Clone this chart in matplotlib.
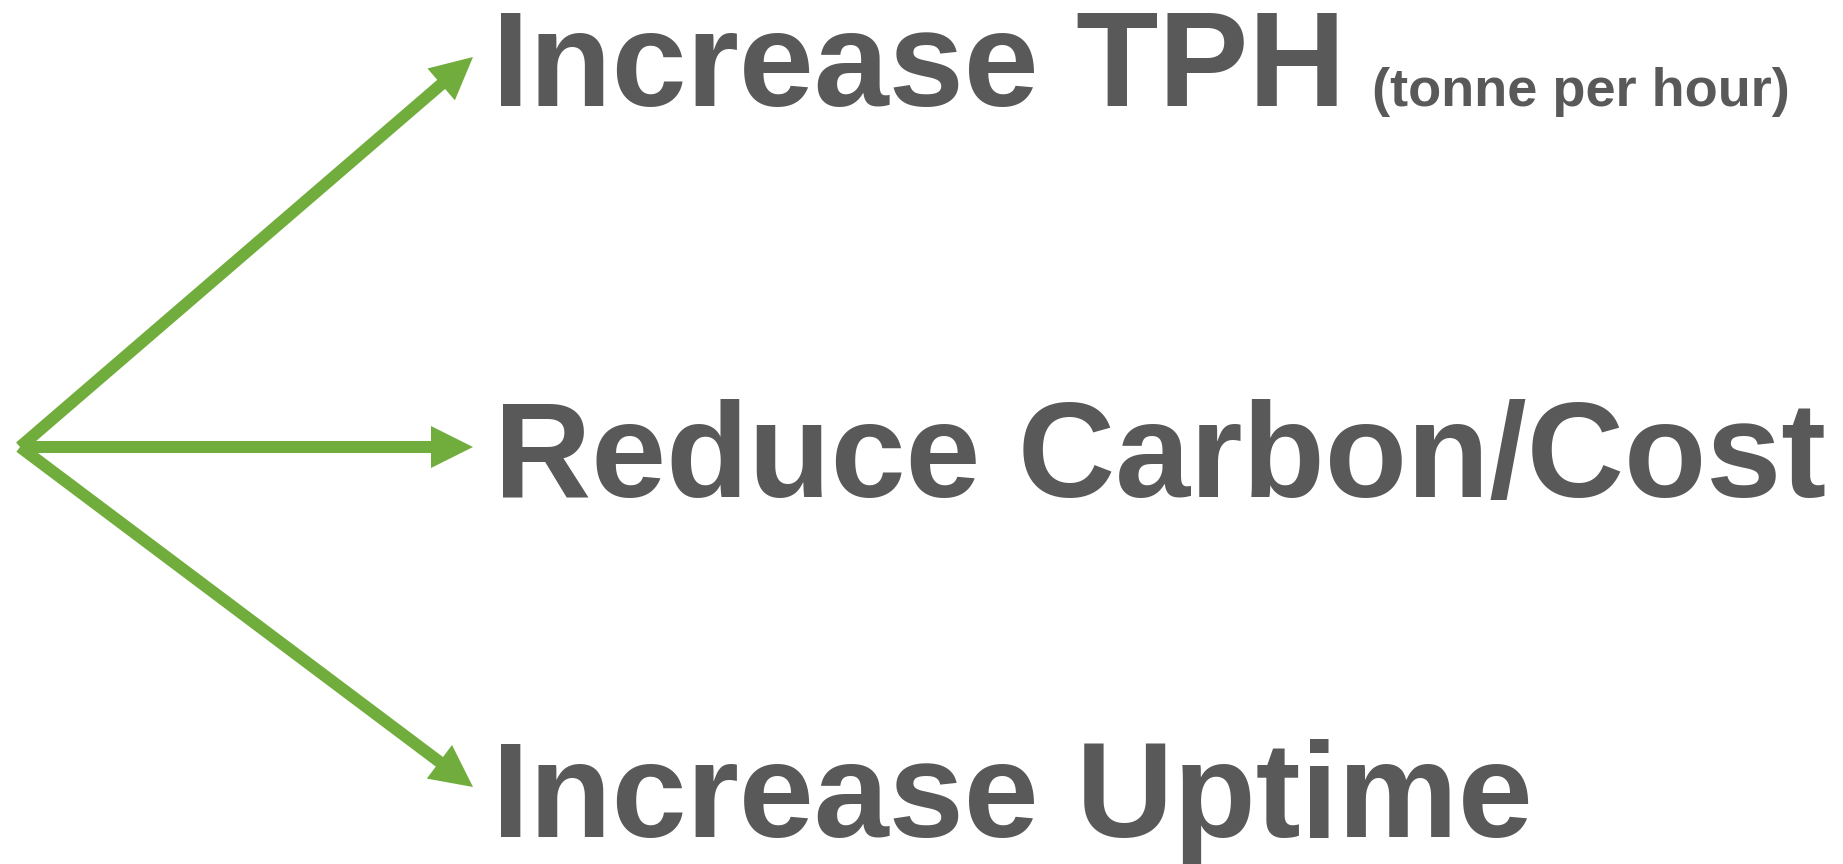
import matplotlib
matplotlib.use("Agg")
import matplotlib.pyplot as plt
from matplotlib.patches import FancyArrow

W, H = 1843, 864
GREEN = "#70ad3c"
GREY = "#595959"

# diagram content (pixel coordinates of the original slide)
labels = ["Increase TPH", "Reduce Carbon/Cost", "Increase Uptime"]
label_x = [492, 494, 492]
label_y = [106, 497, 837]
subtitle = "(tonne per hour)"
origin = (20, 447)
tip_x = [473, 473, 473]
tip_y = [57, 447, 787]

fig = plt.figure(figsize=(W / 100, H / 100), dpi=100)
ax = fig.add_axes([0, 0, 1, 1])
ax.set_xlim(0, W); ax.set_ylim(H, 0)
ax.axis("off")

for tx, ty in zip(tip_x, tip_y):
    ax.add_patch(FancyArrow(origin[0], origin[1], tx - origin[0], ty - origin[1],
                            width=12, head_width=42, head_length=42,
                            length_includes_head=True, color=GREEN, lw=0))

for txt, x, y in zip(labels, label_x, label_y):
    ax.text(x, y, txt, fontsize=97, fontweight="bold", family="Liberation Sans",
            color=GREY, va="baseline", ha="left")

ax.text(1372, 106, subtitle, fontsize=39, fontweight="bold", family="Liberation Sans",
        color=GREY, va="baseline", ha="left")

fig.savefig("out.png", dpi=100)
